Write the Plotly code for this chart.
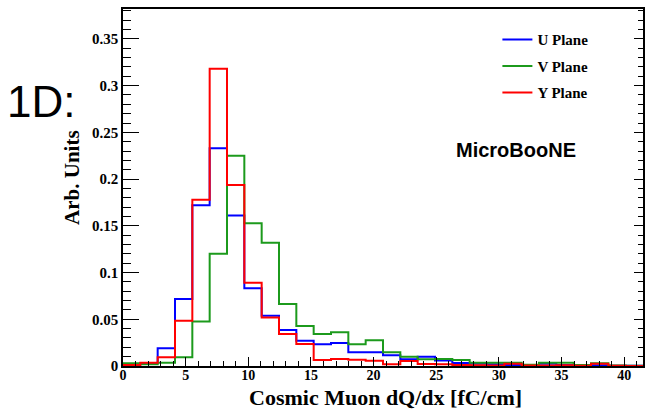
import numpy as np
import plotly.graph_objects as go

# Binning: 30 bins between 0 and 41.5 fC/cm
x_min, x_max, n_bins = 0.0, 41.5, 30

# Normalised dQ/dx distributions per wire plane (arbitrary units)
u_plane = [0.002, 0.003, 0.019, 0.0717, 0.172, 0.233, 0.161, 0.0832, 0.0539, 0.0385,
           0.0271, 0.0232, 0.0246, 0.0146, 0.0146, 0.0114, 0.0071, 0.0100, 0.0060, 0.0032,
           0.0025, 0.0018, 0.0012, 0.0010, 0.0025, 0.0012, 0.0008, 0.0008, 0.0004, 0.0002]
v_plane = [0.003, 0.002, 0.0036, 0.0093, 0.0475, 0.120, 0.225, 0.1528, 0.132, 0.0664,
           0.0428, 0.0343, 0.0360, 0.0232, 0.0275, 0.0146, 0.0100, 0.0071, 0.0075, 0.0064,
           0.0036, 0.0036, 0.0036, 0.0014, 0.0036, 0.0036, 0.0010, 0.0030, 0.0006, 0.0003]
y_plane = [0.001, 0.0036, 0.0093, 0.0485, 0.178, 0.318, 0.1936, 0.0892, 0.052, 0.0343,
           0.0236, 0.0064, 0.0075, 0.0068, 0.0057, 0.0018, 0.0053, 0.0021, 0.0018, 0.0010,
           0.0007, 0.0006, 0.0025, 0.0005, 0.0005, 0.0008, 0.0004, 0.0025, 0.0003, 0.0001]

series = [("U Plane", u_plane, "#0000ff"),
          ("V Plane", v_plane, "#1c9a1c"),
          ("Y Plane", y_plane, "#ff0000")]

x_ticks = [0, 5, 10, 15, 20, 25, 30, 35, 40]
y_ticks = [0, 0.05, 0.1, 0.15, 0.2, 0.25, 0.3, 0.35]
y_tick_text = ["0", "0.05", "0.1", "0.15", "0.2", "0.25", "0.3", "0.35"]

edges = np.linspace(x_min, x_max, n_bins + 1)

serif_bold = dict(family="Liberation Serif", color="black", weight="bold")

fig = go.Figure()
for name, vals, color in series:
    # Histogram outline: rise from the baseline, step through every bin
    xs = np.concatenate([[edges[0]], edges])
    ys = np.concatenate([[0.0], vals, [vals[-1]]])
    fig.add_trace(go.Scatter(
        x=xs, y=ys, mode="lines", name=name, legendgroup=name,
        line=dict(color=color, width=2, shape="hv"),
        hoverinfo="skip",
    ))

# Invisible trace carrying the right-hand tick axis
fig.add_trace(go.Scatter(x=[x_min], y=[0], yaxis="y2", mode="markers",
                         marker=dict(opacity=0), showlegend=False, hoverinfo="skip"))

y_top = 0.382

fig.update_layout(
    width=650, height=410,
    margin=dict(l=123, r=7, t=9, b=44, autoexpand=False),
    paper_bgcolor="white", plot_bgcolor="white",
    showlegend=True,
    legend=dict(x=0.72, y=0.96, xanchor="left", yanchor="top",
                font=dict(size=15, **serif_bold), bgcolor="rgba(0,0,0,0)",
                tracegroupgap=4, itemwidth=30),
    xaxis=dict(range=[x_min, x_max], tickvals=x_ticks, ticks="inside",
               ticklen=9, tickwidth=1, tickcolor="black",
               minor=dict(dtick=1, ticks="inside", ticklen=5, tickcolor="black"),
               showline=True, linecolor="black", linewidth=1.5, mirror=True,
               showgrid=False, zeroline=False, automargin=False,
               tickfont=dict(size=14, **serif_bold), ticklabelstandoff=-5),
    yaxis=dict(range=[0, y_top], tickvals=y_ticks, ticktext=y_tick_text,
               ticks="inside", ticklen=16, tickwidth=1, tickcolor="black",
               minor=dict(dtick=0.01, ticks="inside", ticklen=8, tickcolor="black"),
               showline=True, linecolor="black", linewidth=1.5, mirror=True,
               showgrid=False, zeroline=False, automargin=False,
               tickfont=dict(size=15, **serif_bold)),
    yaxis2=dict(range=[0, y_top], overlaying="y", side="right",
                tickvals=y_ticks, showticklabels=False,
                ticks="inside", ticklen=9, tickwidth=1, tickcolor="black",
                minor=dict(dtick=0.01, ticks="inside", ticklen=5, tickcolor="black"),
                showgrid=False, zeroline=False, showline=False, automargin=False),
)

# Axis titles
fig.add_annotation(text="Cosmic Muon dQ/dx [fC/cm]", xref="paper", yref="paper",
                   x=0.504, y=-0.088, xanchor="center", yanchor="middle",
                   showarrow=False, font=dict(size=22, **serif_bold))
fig.add_annotation(text="Arb. Units", xref="paper", yref="paper", textangle=-90,
                   x=-0.098, y=0.527, xanchor="center", yanchor="middle",
                   showarrow=False, font=dict(size=21, **serif_bold))

fig.add_annotation(text="1D:", xref="paper", yref="paper", x=-0.158, y=0.742,
                   xanchor="center", yanchor="middle", showarrow=False,
                   font=dict(family="Liberation Sans", size=44, color="black"))
fig.add_annotation(text="<b>MicroBooNE</b>", xref="paper", yref="paper", x=0.755, y=0.604,
                   xanchor="center", yanchor="middle", showarrow=False,
                   font=dict(family="Liberation Sans", size=20, color="black"))

fig.write_html("out.html")
